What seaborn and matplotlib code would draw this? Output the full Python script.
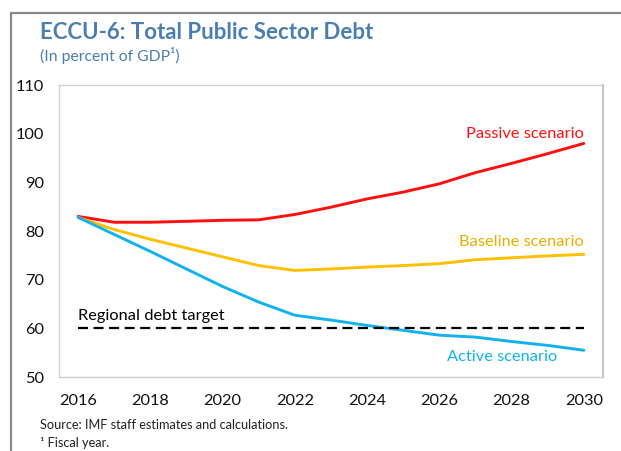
import matplotlib
matplotlib.use("Agg")
import matplotlib.pyplot as plt
from matplotlib.lines import Line2D
import numpy as np
import pandas as pd
import seaborn as sns

years = list(range(2016, 2031))
passive = [83.0, 81.8, 81.8, 82.0, 82.2, 82.3, 83.4, 84.9, 86.6, 88.0, 89.7, 92.0, 93.9, 95.9, 98.0]
baseline = [82.8, 80.3, 78.3, 76.5, 74.7, 72.9, 71.9, 72.2, 72.6, 72.9, 73.3, 74.1, 74.5, 74.9, 75.2]
active = [82.8, 79.3, 75.8, 72.2, 68.6, 65.4, 62.7, 61.7, 60.6, 59.6, 58.6, 58.2, 57.3, 56.5, 55.5]
debt_target = 60
series_names = ["Passive scenario", "Baseline scenario", "Active scenario"]
yticks = [50, 60, 70, 80, 90, 100, 110]
xticks = list(range(2016, 2031, 2))

sns.set_style("white")
plt.rcParams["font.family"] = ["Lato", "DejaVu Sans"]

df = pd.DataFrame({
    "year": years * 3,
    "value": passive + baseline + active,
    "scenario": [series_names[0]] * len(years) + [series_names[1]] * len(years) + [series_names[2]] * len(years),
})

line_colors = {"Passive scenario": "#FF1010", "Baseline scenario": "#FFC000", "Active scenario": "#12B2EE"}
text_colors = {"Passive scenario": "#FF1010", "Baseline scenario": "#E8AE00", "Active scenario": "#12B2EE"}

fig = plt.figure(figsize=(6.21, 4.51), dpi=100)
ax = fig.add_axes([0.095, 0.164, 0.876, 0.6475])

sns.lineplot(data=df, x="year", y="value", hue="scenario", palette=line_colors,
             linewidth=2.1, legend=False, ax=ax)

ax.plot([years[0], years[-1]], [debt_target, debt_target], color="black",
        linewidth=1.6, linestyle=(0, (4.5, 2.5)))

ax.set_xlim(2015.47, 2030.53)
ax.set_ylim(50, 110)
ax.set_xticks(xticks)
ax.set_yticks(yticks)
ax.set_xlabel("")
ax.set_ylabel("")
ax.tick_params(axis="y", direction="in", length=4, width=0.8, color="#BFBFBF",
               labelsize=11.8, pad=11, labelcolor="#111111")
ax.tick_params(axis="x", length=0, labelsize=11.8, pad=12, labelcolor="#111111")
for side, sp in ax.spines.items():
    sp.set_color("#D0D0D0")
    sp.set_linewidth(1.0)
ax.spines["right"].set_color("#C8C8C8")
ax.spines["right"].set_linewidth(1.5)

ax.text(2030.0, 98.4, "Passive scenario", color=text_colors["Passive scenario"],
        fontsize=11.8, ha="right", va="bottom")
ax.text(2030.0, 76.3, "Baseline scenario", color=text_colors["Baseline scenario"],
        fontsize=11.8, ha="right", va="bottom")
ax.text(2029.25, 54.1, "Active scenario", color=text_colors["Active scenario"],
        fontsize=11.8, ha="right", va="center")
ax.text(2016.0, 61.0, "Regional debt target", color="black",
        fontsize=11.8, ha="left", va="bottom")

fig.text(0.064, 0.927, "ECCU-6: Total Public Sector Debt", color="#4A7EAE",
         fontsize=16, fontweight="bold", ha="left", va="center")
fig.text(0.064, 0.876, "(In percent of GDP\u00b9)", color="#4A7EAE",
         fontsize=11.3, ha="left", va="center")
fig.text(0.064, 0.058, "Source: IMF staff estimates and calculations.", color="#222222",
         fontsize=9.2, ha="left", va="center")
fig.text(0.064, 0.018, "\u00b9 Fiscal year.", color="#222222",
         fontsize=9.2, ha="left", va="center")

# outer frame along the top and left edges
fig.add_artist(Line2D([11 / 621, 1.0], [1 - 13 / 451, 1 - 13 / 451],
                      transform=fig.transFigure, color="#8A8A8A", linewidth=1.6))
fig.add_artist(Line2D([11 / 621, 11 / 621], [0.0, 1 - 13 / 451],
                      transform=fig.transFigure, color="#8A8A8A", linewidth=1.6))

fig.savefig("out.png", dpi=100)
